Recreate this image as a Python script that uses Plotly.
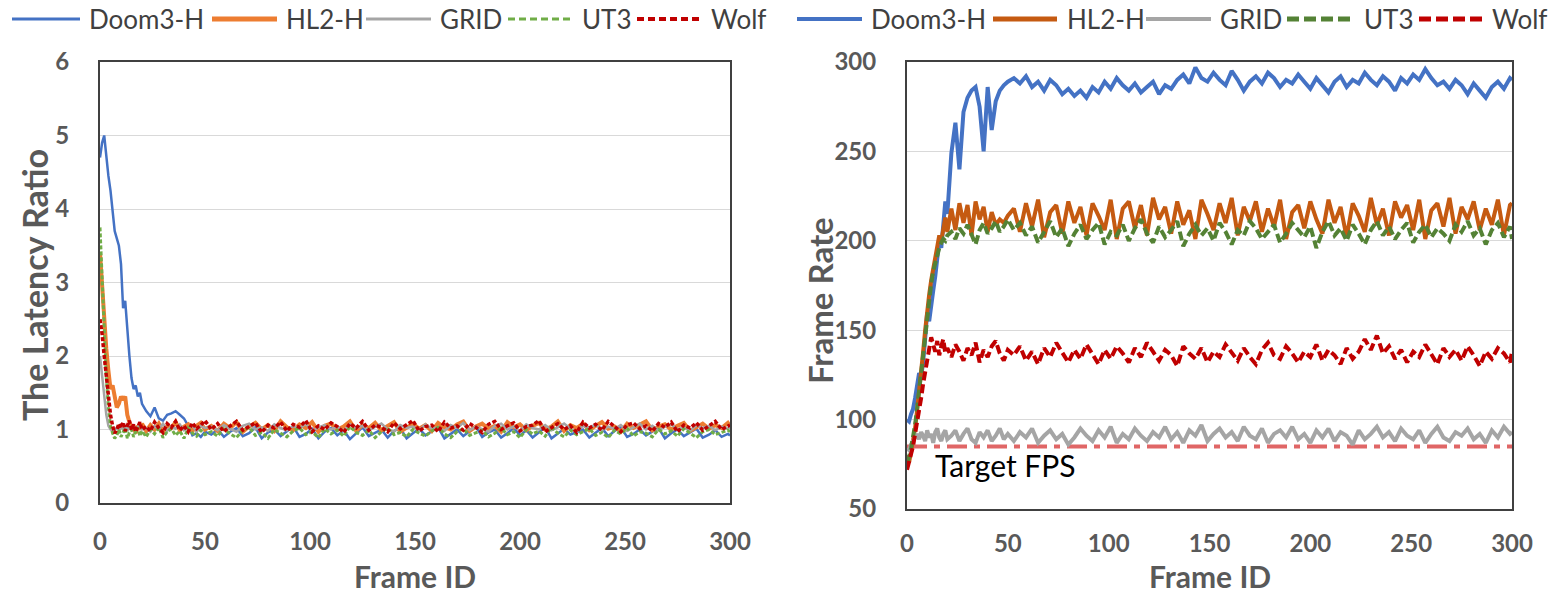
import plotly.graph_objects as go

W, H = 1555, 594

# ---------------- data ----------------
FRAMES = list(range(0, 21)) + list(range(22, 51, 2)) + list(range(53, 300, 3)) + [300]
SERIES = ["Doom3-H", "HL2-H", "GRID", "UT3", "Wolf"]
X_TICKS = [0, 50, 100, 150, 200, 250, 300]
LAT_TICKS = [0, 1, 2, 3, 4, 5, 6]
FPS_TICKS = [50, 100, 150, 200, 250, 300]
TARGET_FPS = 85

# Left panel: latency ratio
LAT_DOOM3 = [
    4.70, 4.90, 5.00, 4.70, 4.45, 4.25, 4.00, 3.70, 3.60, 3.50, 3.25, 2.65, 2.75, 2.30, 2.00, 1.70, 1.55, 1.60, 1.45, 1.50, 1.35,
    1.25, 1.18, 1.30, 1.15, 1.12, 1.20, 1.22, 1.25, 1.20, 1.15, 1.05, 0.92, 0.95, 0.90, 0.97,
    0.93, 1.00, 0.90, 0.97, 1.02, 0.91, 0.95, 1.03, 0.88, 0.96, 1.00, 0.91,
    0.98, 1.04, 0.90, 0.94, 1.01, 0.88, 0.97, 1.02, 0.92, 0.99, 0.87, 0.95,
    1.03, 0.91, 0.96, 1.00, 0.89, 0.98, 1.02, 0.88, 0.95, 1.01, 0.92, 0.97,
    1.03, 0.88, 0.94, 1.00, 0.91, 0.98, 1.04, 0.90, 0.96, 1.00, 0.89, 0.95,
    1.02, 0.92, 0.99, 0.89, 0.96, 1.03, 0.88, 0.94, 1.01, 0.93, 0.97, 1.00,
    0.89, 0.95, 1.02, 0.91, 0.98, 1.03, 0.90, 0.94, 1.00, 0.92, 0.97, 1.02,
    0.88, 0.95, 1.00, 0.91, 0.96, 1.01, 0.89, 0.93, 0.99, 0.90, 0.94, 0.92,
]
LAT_HL2 = [
    3.40, 2.90, 2.50, 2.10, 1.80, 1.55, 1.60, 1.45, 1.30, 1.35, 1.45, 1.40, 1.45, 1.20, 1.10, 1.00, 1.05, 0.95, 1.05, 1.00, 1.08,
    0.98, 1.06, 1.00, 1.08, 0.97, 1.05, 1.02, 1.10, 0.99, 1.04, 1.07, 0.98, 1.05, 1.09, 1.00,
    1.05, 0.98, 1.08, 1.02, 1.10, 0.97, 1.04, 1.09, 1.00, 1.06, 0.98, 1.11,
    1.03, 0.99, 1.07, 1.02, 1.10, 0.97, 1.05, 1.08, 1.00, 1.04, 1.11, 0.98,
    1.06, 1.02, 1.09, 0.99, 1.05, 1.10, 0.97, 1.03, 1.08, 1.01, 1.06, 0.98,
    1.09, 1.03, 1.00, 1.07, 1.11, 0.98, 1.04, 1.08, 1.01, 1.05, 0.97, 1.10,
    1.03, 1.07, 0.99, 1.05, 1.09, 1.00, 1.04, 1.11, 0.98, 1.06, 1.02, 1.08,
    0.99, 1.05, 1.10, 1.01, 1.04, 0.97, 1.08, 1.02, 1.06, 1.11, 0.99, 1.04,
    1.07, 1.00, 1.05, 1.09, 0.98, 1.03, 1.08, 1.01, 1.06, 1.02, 1.09, 1.05,
]
LAT_GRID = [
    2.00, 1.70, 1.45, 1.20, 1.05, 1.00, 0.98, 1.00, 1.02, 0.99, 1.03, 1.00, 1.05, 0.98, 1.04, 1.00, 1.06, 0.99, 1.03, 1.07, 1.00,
    1.02, 0.97, 1.05, 1.00, 1.08, 0.98, 1.04, 1.01, 1.07, 0.99, 1.03, 1.06, 0.97, 1.05, 1.02,
    1.04, 0.99, 1.06, 1.01, 0.97, 1.05, 1.08, 1.00, 1.03, 0.98, 1.07, 1.02,
    0.99, 1.05, 1.01, 1.08, 0.97, 1.03, 1.06, 1.00, 1.04, 0.98, 1.07, 1.02,
    1.05, 0.99, 1.03, 1.08, 1.00, 0.97, 1.06, 1.02, 1.04, 0.99, 1.07, 1.01,
    1.03, 0.98, 1.06, 1.02, 1.09, 0.99, 1.04, 1.01, 0.97, 1.05, 1.08, 1.00,
    1.04, 0.98, 1.07, 1.02, 1.00, 1.06, 0.99, 1.03, 1.08, 1.01, 0.97, 1.05,
    1.02, 1.07, 0.99, 1.04, 1.01, 1.06, 0.98, 1.03, 1.08, 1.00, 1.05, 0.99,
    1.04, 1.07, 1.00, 1.03, 0.98, 1.06, 1.02, 1.05, 0.99, 1.04, 1.01, 1.03,
]
LAT_UT3 = [
    3.75, 3.10, 2.30, 1.70, 1.30, 1.05, 0.95, 0.88, 0.92, 1.00, 0.90, 0.95, 1.02, 0.88, 0.96, 1.00, 0.90, 0.97, 1.03, 0.91, 0.98,
    0.90, 1.00, 0.94, 1.03, 0.89, 0.97, 1.01, 0.92, 0.98, 0.88, 1.02, 0.95, 0.91, 0.99, 0.93,
    0.97, 0.91, 1.01, 0.94, 0.89, 0.99, 1.03, 0.92, 0.96, 0.88, 1.00, 0.95,
    0.90, 0.98, 1.02, 0.93, 0.97, 0.89, 1.01, 0.94, 0.99, 0.91, 1.04, 0.96,
    0.92, 0.99, 0.89, 0.97, 1.02, 0.93, 0.96, 0.90, 1.00, 0.95, 0.91, 0.98,
    1.03, 0.94, 0.89, 0.97, 1.01, 0.92, 0.96, 0.99, 0.90, 0.95, 1.02, 0.93,
    0.97, 0.89, 1.00, 0.94, 0.98, 0.91, 1.03, 0.95, 0.90, 0.99, 0.93, 0.97,
    1.01, 0.92, 0.96, 0.89, 0.99, 0.94, 1.02, 0.91, 0.97, 0.95, 0.90, 1.00,
    0.94, 0.98, 0.91, 1.01, 0.95, 0.89, 0.97, 1.00, 0.93, 0.96, 0.99, 0.97,
]
LAT_WOLF = [
    2.50, 2.30, 2.00, 1.70, 1.45, 1.20, 1.05, 0.95, 1.00, 1.08, 1.02, 1.10, 0.98, 1.06, 1.12, 1.00, 1.07, 0.97, 1.05, 1.10, 1.00,
    1.04, 0.98, 1.10, 1.02, 0.96, 1.08, 1.03, 1.11, 0.99, 1.05, 0.97, 1.09, 1.01, 1.06, 1.12,
    1.00, 1.08, 0.97, 1.05, 1.11, 0.99, 1.04, 1.09, 0.96, 1.06, 1.02, 1.10,
    0.98, 1.07, 1.03, 1.12, 0.97, 1.05, 1.00, 1.09, 1.04, 0.96, 1.08, 1.02,
    1.11, 0.99, 1.06, 1.03, 0.97, 1.09, 1.01, 1.07, 1.12, 0.98, 1.04, 1.06,
    0.97, 1.10, 1.02, 1.05, 0.99, 1.08, 1.03, 0.96, 1.07, 1.11, 1.00, 1.05,
    1.09, 0.98, 1.04, 1.06, 1.12, 0.97, 1.03, 1.08, 1.00, 1.05, 0.96, 1.10,
    1.02, 1.07, 0.99, 1.11, 1.04, 0.97, 1.06, 1.09, 1.01, 1.05, 0.98, 1.08,
    1.03, 1.10, 0.97, 1.06, 1.02, 1.09, 0.99, 1.05, 1.11, 1.00, 1.04, 1.06,
]

# Right panel: frame rate
FPS_DOOM3 = [
    100, 99, 103, 106, 112, 120, 126, 124, 132, 145, 160, 155, 166, 172, 180, 190, 200, 196, 208, 222, 215,
    249, 266, 240, 272, 280, 284, 286, 275, 250, 286, 262, 278, 284, 287, 289,
    291, 288, 292, 286, 289, 284, 290, 287, 282, 285, 281, 284,
    280, 286, 283, 289, 285, 291, 287, 284, 288, 283, 286, 289,
    282, 287, 285, 290, 293, 288, 297, 291, 289, 294, 290, 287,
    295, 290, 284, 289, 292, 288, 294, 291, 286, 290, 288, 293,
    289, 285, 291, 287, 283, 289, 292, 286, 290, 288, 294, 290,
    287, 292, 289, 284, 291, 288, 293, 290, 296, 291, 287, 289,
    285, 290, 287, 282, 288, 284, 280, 286, 289, 285, 291, 290,
]
FPS_HL2 = [
    80, 76, 82, 88, 95, 105, 115, 125, 138, 150, 162, 170, 178, 185, 191, 196, 203, 200, 208, 213, 205,
    218, 206, 221, 210, 220, 203, 222, 212, 219, 205, 216, 209, 212, 210, 214,
    218, 205, 221, 208, 223, 202, 216, 220, 204, 222, 210, 219,
    203, 221, 214, 206, 223, 201, 218, 222, 207, 220, 203, 224,
    212, 219, 204, 222, 209, 217, 201, 223, 215, 206, 221, 210,
    224, 203, 219, 211, 222, 205, 218, 208, 223, 201, 216, 220,
    207, 222, 212, 204, 223, 210, 219, 202, 221, 214, 205, 224,
    209, 218, 203, 222, 213, 220, 206, 223, 201, 217, 221, 208,
    224, 204, 219, 212, 222, 206, 218, 209, 223, 203, 220, 221,
]
FPS_GRID = [
    84, 83, 86, 88, 90, 92, 89, 93, 91, 88, 94, 90, 92, 87, 93, 95, 90, 88, 92, 94, 89,
    91, 94, 88, 92, 95, 89, 87, 93, 90, 94, 88, 91, 95, 89, 92,
    88, 93, 90, 95, 87, 91, 94, 89, 92, 86, 90, 95,
    91, 88, 94, 90, 96, 87, 92, 89, 95, 91, 88, 93,
    90, 96, 89, 93, 87, 94, 91, 97, 88, 92, 95, 90,
    93, 88, 96, 91, 89, 95, 87, 92, 94, 90, 96, 89,
    92, 87, 94, 90, 95, 88, 93, 91, 86, 94, 89, 92,
    96, 90, 93, 88, 95, 91, 89, 94, 87, 92, 96, 90,
    88, 93, 91, 95, 89, 92, 87, 94, 90, 96, 92, 93,
]
FPS_UT3 = [
    76, 79, 84, 90, 97, 106, 116, 126, 137, 148, 160, 168, 176, 183, 188, 193, 196, 199, 201, 200, 203,
    205, 201, 207, 204, 209, 203, 198, 206, 210, 204, 207, 211, 205, 208, 212,
    206, 210, 203, 208, 199, 205, 211, 202, 207, 197, 204, 209,
    201, 206, 210, 198, 205, 203, 209, 200, 207, 212, 204, 199,
    208, 202, 206, 211, 197, 204, 209, 203, 207, 200, 210, 205,
    198, 206, 203, 211, 207, 201, 205, 209, 199, 204, 210, 206,
    202, 208, 196, 205, 211, 203, 207, 200, 209, 204, 198, 206,
    211, 203, 208, 201, 206, 210, 199, 205, 209, 202, 207, 204,
    200, 209, 205, 211, 203, 207, 198, 206, 210, 202, 208, 201,
]
FPS_WOLF = [
    72, 76, 80, 85, 92, 98, 106, 112, 120, 127, 134, 140, 146, 142, 138, 144, 136, 141, 145, 137, 140,
    135, 142, 138, 133, 140, 136, 143, 132, 139, 135, 141, 144, 137, 133, 139,
    136, 141, 133, 138, 131, 140, 135, 143, 137, 132, 139, 134,
    142, 136, 131, 139, 134, 141, 137, 132, 140, 135, 143, 138,
    133, 139, 136, 130, 141, 137, 134, 140, 132, 138, 135, 142,
    137, 133, 140, 135, 131, 139, 143, 136, 134, 141, 137, 132,
    138, 135, 142, 133, 139, 136, 131, 140, 134, 138, 145, 139,
    147, 137, 141, 134, 139, 132, 138, 135, 142, 136, 131, 140,
    135, 139, 133, 141, 136, 130, 138, 134, 140, 137, 132, 138,
]

LEFT_DATA = [LAT_DOOM3, LAT_HL2, LAT_GRID, LAT_UT3, LAT_WOLF]
RIGHT_DATA = [FPS_DOOM3, FPS_HL2, FPS_GRID, FPS_UT3, FPS_WOLF]
for arr in LEFT_DATA + RIGHT_DATA:
    assert len(arr) == len(FRAMES), (len(arr), len(FRAMES))

# ---------------- styles ----------------
LEFT_STYLE = [
    dict(color="#4472C4", width=2.5, dash="solid"),
    dict(color="#ED7D31", width=4, dash="solid"),
    dict(color="#A5A5A5", width=2.5, dash="solid"),
    dict(color="#70AD47", width=3, dash="4px,2px"),
    dict(color="#C00000", width=3.5, dash="4px,2px"),
]
RIGHT_STYLE = [
    dict(color="#4472C4", width=4, dash="solid"),
    dict(color="#C55A11", width=4, dash="solid"),
    dict(color="#A5A5A5", width=4, dash="solid"),
    dict(color="#548235", width=4, dash="9px,4px"),
    dict(color="#C00000", width=4, dash="9px,4px"),
]
LEFT_LEG_STYLE = [
    dict(color="#4472C4", width=3, dash="solid"),
    dict(color="#ED7D31", width=5, dash="solid"),
    dict(color="#A5A5A5", width=3, dash="solid"),
    dict(color="#70AD47", width=3, dash="7px,4px"),
    dict(color="#C00000", width=4, dash="7px,4px"),
]
RIGHT_LEG_STYLE = [
    dict(color="#4472C4", width=4, dash="solid"),
    dict(color="#C55A11", width=5, dash="solid"),
    dict(color="#A5A5A5", width=4, dash="solid"),
    dict(color="#548235", width=5, dash="12px,5px"),
    dict(color="#C00000", width=5, dash="12px,5px"),
]
LEFT_LEG_POS = [(12, 80, 87), (212, 277, 284), (366, 431, 438), (508, 572, 580), (637, 701, 709)]
RIGHT_LEG_POS = [(797, 862, 869), (993, 1057, 1065), (1146, 1211, 1218), (1287, 1354, 1362), (1419, 1483, 1490)]

FONT = "Lato"
TICK_FONT = dict(family=FONT, size=24, color="#595959", weight="bold")
TITLE_FONT = dict(family=FONT, size=30, color="#595959", weight="bold")


def px(x):
    return x / W


def py(y):
    return 1 - y / H


fig = go.Figure()

fig.add_trace(go.Scatter(x=[0, 300], y=[TARGET_FPS, TARGET_FPS], mode="lines",
                         line=dict(color="#E06666", width=4, dash="20px,7px,6px,7px"),
                         xaxis="x2", yaxis="y2", showlegend=False, hoverinfo="skip"))

for name, vals, st in zip(SERIES, LEFT_DATA, LEFT_STYLE):
    fig.add_trace(go.Scatter(x=FRAMES, y=vals, mode="lines", name=name, line=st,
                             xaxis="x", yaxis="y", showlegend=False))
for name, vals, st in zip(SERIES, RIGHT_DATA, RIGHT_STYLE):
    fig.add_trace(go.Scatter(x=FRAMES, y=vals, mode="lines", name=name, line=st,
                             xaxis="x2", yaxis="y2", showlegend=False))

axis_common = dict(showline=True, mirror=True, linecolor="#404040", linewidth=2,
                   zeroline=False, tickfont=TICK_FONT, ticks="outside",
                   tickcolor="rgba(0,0,0,0)", fixedrange=True, automargin=False)

fig.update_layout(
    template="none",
    width=W, height=H, autosize=False,
    margin=dict(l=0, r=0, t=0, b=0, pad=0),
    paper_bgcolor="white", plot_bgcolor="white",
    showlegend=False,
    xaxis=dict(domain=[px(100), px(730)], range=[0, 300], tickvals=X_TICKS,
               showgrid=False, anchor="y", ticklen=16, **axis_common),
    yaxis=dict(domain=[py(503), py(62)], range=[0, 6], tickvals=LAT_TICKS,
               showgrid=True, gridcolor="#D9D9D9", gridwidth=1, anchor="x",
               ticklen=24, **axis_common),
    xaxis2=dict(domain=[px(907), px(1512)], range=[0, 300], tickvals=X_TICKS,
                showgrid=False, anchor="y2", ticklen=12, **axis_common),
    yaxis2=dict(domain=[py(509), py(62)], range=[50, 300], tickvals=FPS_TICKS,
                showgrid=True, gridcolor="#D9D9D9", gridwidth=1, anchor="x2",
                ticklen=24, **axis_common),
)

ann = []
shapes = []
for names, poss, sts in ((SERIES, LEFT_LEG_POS, LEFT_LEG_STYLE), (SERIES, RIGHT_LEG_POS, RIGHT_LEG_STYLE)):
    for name, (x0, x1, xt), st in zip(names, poss, sts):
        shapes.append(dict(type="line", xref="paper", yref="paper", x0=px(x0), x1=px(x1),
                           y0=py(19), y1=py(19), line=st))
        ann.append(dict(text=name, xref="paper", yref="paper", x=px(xt), y=py(19),
                        xanchor="left", yanchor="middle", showarrow=False,
                        font=dict(family=FONT, size=26, color="#404040")))

ann += [
    dict(text="Frame ID", xref="paper", yref="paper", x=px(415), y=py(576), showarrow=False,
         xanchor="center", yanchor="middle", font=TITLE_FONT),
    dict(text="Frame ID", xref="paper", yref="paper", x=px(1210), y=py(576), showarrow=False,
         xanchor="center", yanchor="middle", font=TITLE_FONT),
    dict(text="The Latency Ratio", xref="paper", yref="paper", x=px(34), y=py(285), showarrow=False,
         xanchor="center", yanchor="middle", textangle=-90,
         font=dict(family=FONT, size=34, color="#595959", weight="bold")),
    dict(text="Frame Rate", xref="paper", yref="paper", x=px(820), y=py(300), showarrow=False,
         xanchor="center", yanchor="middle", textangle=-90,
         font=dict(family=FONT, size=33, color="#595959", weight="bold")),
    dict(text="Target FPS", xref="x2", yref="y2", x=13, y=74.6, showarrow=False,
         xanchor="left", yanchor="middle", font=dict(family=FONT, size=30, color="#000000")),
]
fig.update_layout(annotations=ann, shapes=shapes)

fig.write_html("out.html", config={"displayModeBar": False},
               post_script="document.body.style.margin='0';document.body.style.overflow='hidden';")
